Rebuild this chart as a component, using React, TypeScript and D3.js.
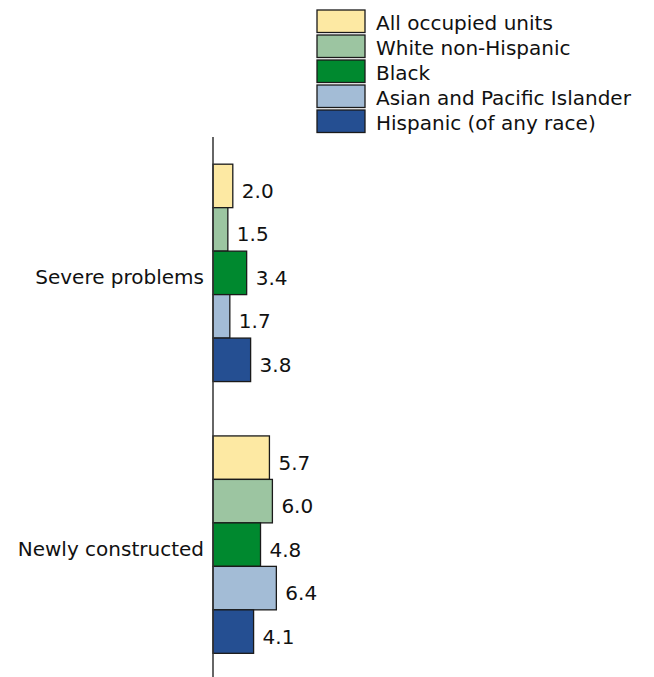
import React from "react";
import * as d3 from "d3";

const categories = ["Severe problems", "Newly constructed"];
const seriesNames = [
  "All occupied units",
  "White non-Hispanic",
  "Black",
  "Asian and Pacific Islander",
  "Hispanic (of any race)",
];
const seriesColors = ["#fde9a3", "#9cc5a1", "#00892f", "#a3bcd6", "#254f92"];
const severeValues = [2.0, 1.5, 3.4, 1.7, 3.8];
const newlyValues = [5.7, 6.0, 4.8, 6.4, 4.1];
const valuesByCategory = [severeValues, newlyValues];

const W = 654;
const H = 677;
const FONT = "DejaVu Sans, sans-serif";
const FS = 20;

export default function App() {
  const x0 = 213;
  const x = d3.scaleLinear().domain([0, 1]).range([x0, x0 + 9.9]);
  const y = d3
    .scaleBand<string>()
    .domain(categories)
    .range([137, 680.5])
    .paddingInner(0.2)
    .paddingOuter(0.1);
  const ySub = d3
    .scaleBand<string>()
    .domain(seriesNames)
    .range([0, y.bandwidth()]);

  const legendX = 317;
  const legendY = 10;
  const legendStep = 25;

  return (
    <svg
      width={W}
      height={H}
      style={{ position: "absolute", left: 0, top: 0, background: "#fff" }}
      fontFamily={FONT}
    >
      {categories.map((cat, ci) => (
        <g key={cat} transform={`translate(0,${y(cat)})`}>
          {seriesNames.map((s, si) => {
            const v = valuesByCategory[ci][si];
            const by = ySub(s)!;
            const bh = ySub.bandwidth();
            return (
              <g key={s}>
                <rect
                  x={x(0)}
                  y={by}
                  width={x(v) - x(0)}
                  height={bh}
                  fill={seriesColors[si]}
                  stroke="#1a1a1a"
                  strokeWidth={1.3}
                />
                <text
                  x={x(v) + 9}
                  y={by + bh / 2}
                  dy="0.6em"
                  fontSize={FS}
                  fill="#111"
                >
                  {v.toFixed(1)}
                </text>
              </g>
            );
          })}
          <text
            x={x0 - 9}
            y={y.bandwidth() / 2}
            dy="0.58em"
            textAnchor="end"
            fontSize={FS}
            fill="#111"
          >
            {cat}
          </text>
        </g>
      ))}
      <line x1={x0} x2={x0} y1={137} y2={H} stroke="#333" strokeWidth={1.5} />
      {seriesNames.map((s, i) => (
        <g key={s} transform={`translate(${legendX},${legendY + i * legendStep})`}>
          <rect
            x={0}
            y={0}
            width={48}
            height={22.5}
            fill={seriesColors[i]}
            stroke="#1a1a1a"
            strokeWidth={1.3}
          />
          <text x={59} y={11.3} dy="0.43em" fontSize={FS} fill="#111">
            {s}
          </text>
        </g>
      ))}
    </svg>
  );
}
